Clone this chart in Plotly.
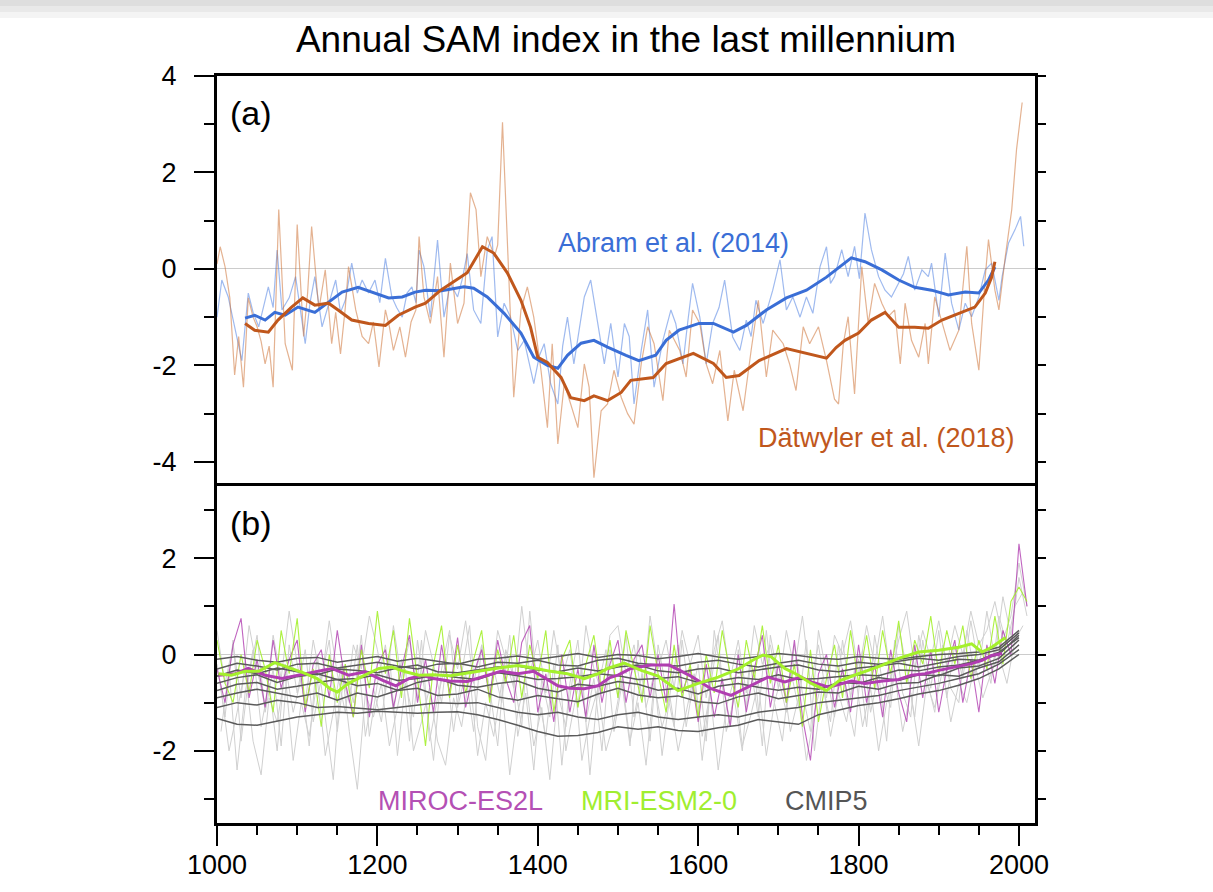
import plotly.graph_objects as go

# ---------------- Panel (a) data ----------------
ABRAM_ANNUAL = [(1000, -1.0), (1006, -0.23), (1014, -0.58), (1022, -1.2), (1031, -1.9), (1039, -0.5), (1045, -0.9),
    (1052, -1.2), (1058, -0.8), (1064, -0.37), (1070, -0.8), (1075, 0.39), (1081, -0.85), (1090, -0.6), (1098, -0.16),
    (1104, -0.9), (1110, -1.55), (1116, -0.7), (1122, -0.16), (1131, -1.2), (1140, -0.7), (1148, -0.23), (1154, -0.9),
    (1160, -0.65), (1168, 0.12), (1175, -0.5), (1181, -0.23), (1189, -0.5), (1197, -0.23), (1203, -0.7), (1210, 0.22),
    (1218, -0.58), (1224, -0.8), (1231, -1.0), (1237, -0.5), (1243, -0.37), (1248, -0.7), (1252, 0.39), (1258, 0.05),
    (1266, -1.0), (1275, 0.6), (1283, -1.0), (1291, -0.3), (1300, -0.58), (1306, -0.2), (1312, 0.32), (1320, -0.85),
    (1329, -1.13), (1337, 0.39), (1343, 0.67), (1350, -1.41), (1358, -0.71), (1366, -1.0), (1375, -1.69), (1383, -1.48),
    (1389, -1.9), (1395, -2.38), (1402, -1.8), (1408, -1.55), (1416, -2.38), (1425, -2.8), (1431, -1.6), (1437, -1.0),
    (1445, -1.97), (1452, -1.2), (1458, -0.58), (1466, -0.23), (1475, -1.13), (1483, -1.97), (1491, -1.13), (1500, -2.24),
    (1508, -1.13), (1514, -1.4), (1520, -2.8), (1529, -1.69), (1537, -0.85), (1545, -2.45), (1556, -1.48), (1566, -0.85),
    (1572, -1.13), (1581, -1.97), (1587, -1.1), (1593, -0.3), (1602, -1.0), (1610, -1.97), (1618, -1.13), (1626, -0.8),
    (1633, -0.23), (1643, -1.41), (1652, -1.69), (1660, -1.06), (1666, -1.4), (1672, -0.65), (1681, -1.13), (1687, -0.8),
    (1693, -0.44), (1702, 0.19), (1710, -0.85), (1718, -0.58), (1727, -1.0), (1735, -0.58), (1743, -0.92), (1752, 0.05),
    (1760, 0.46), (1765, -0.3), (1770, -0.16), (1779, 0.4), (1787, -0.16), (1795, 0.47), (1801, -0.2), (1808, 1.16),
    (1816, 0.4), (1825, -0.16), (1833, -0.44), (1841, -0.58), (1850, -0.3), (1856, -0.1), (1862, 0.26), (1870, -0.44),
    (1879, -0.02), (1887, -0.16), (1891, 0.12), (1900, -0.99), (1908, 0.33), (1916, -0.71), (1925, -1.27), (1933, -0.71),
    (1941, -0.99), (1950, -0.58), (1958, -0.02), (1966, 0.12), (1975, -0.65), (1979, -0.16), (1987, 0.54), (1995, 0.81),
    (2002, 1.09), (2006, 0.47)]

ABRAM_SMOOTH = [(1035, -1.02), (1047, -0.96), (1060, -1.06), (1072, -0.9), (1085, -0.96), (1101, -0.79), (1122, -0.9),
    (1139, -0.69), (1156, -0.48), (1176, -0.38), (1197, -0.5), (1214, -0.6), (1231, -0.58), (1247, -0.48), (1260, -0.44),
    (1280, -0.45), (1308, -0.37), (1320, -0.4), (1337, -0.58), (1358, -0.92), (1379, -1.33), (1395, -1.83), (1412, -2.0),
    (1425, -2.06), (1437, -1.79), (1454, -1.54), (1470, -1.48), (1487, -1.62), (1510, -1.79), (1526, -1.9), (1547, -1.79),
    (1560, -1.48), (1576, -1.27), (1601, -1.13), (1619, -1.13), (1644, -1.31), (1660, -1.17), (1685, -0.85), (1710, -0.6),
    (1735, -0.44), (1760, -0.17), (1772, -0.02), (1791, 0.23), (1808, 0.15), (1829, -0.02), (1850, -0.23), (1870, -0.38),
    (1891, -0.44), (1912, -0.54), (1933, -0.48), (1950, -0.5), (1962, -0.23), (1970, 0.04)]

DATWYLER_ANNUAL = [(1000, 0.1), (1004, 0.46), (1010, 0.05), (1016, -0.6), (1022, -2.2), (1027, -1.4), (1033, -2.45),
    (1039, -0.6), (1045, -1.0), (1050, -1.2), (1055, -1.5), (1060, -1.97), (1065, -1.6), (1070, -2.45), (1077, 1.23),
    (1085, -1.55), (1094, -2.1), (1100, 0.92), (1108, -1.4), (1113, -0.5), (1118, 0.88), (1127, -0.85), (1135, -0.02),
    (1143, -1.55), (1148, -0.9), (1154, -1.76), (1160, -0.8), (1164, 0.05), (1173, -0.85), (1181, -1.4), (1189, -1.55),
    (1195, -1.1), (1202, -2.03), (1210, -0.85), (1215, -1.2), (1220, -1.69), (1228, -1.2), (1235, -1.83), (1242, -1.1),
    (1248, -0.85), (1252, 0.67), (1258, -0.58), (1266, -1.13), (1275, -0.16), (1283, -1.83), (1291, 0.12), (1300, -1.13),
    (1308, -0.71), (1316, 1.58), (1323, 1.23), (1329, -0.16), (1337, 0.67), (1346, 0.26), (1350, 0.5), (1356, 3.04),
    (1364, -0.02), (1370, -2.66), (1379, -0.85), (1387, -0.37), (1395, -1.0), (1404, -2.1), (1412, -3.29), (1418, -1.55),
    (1425, -3.63), (1433, -2.38), (1441, -2.8), (1450, -3.29), (1458, -1.97), (1464, -2.45), (1470, -4.33), (1479, -2.94),
    (1487, -2.8), (1495, -2.1), (1504, -2.66), (1512, -3.0), (1520, -3.22), (1529, -1.97), (1537, -1.2), (1545, -1.55),
    (1556, -2.73), (1564, -1.27), (1577, -1.69), (1585, -2.24), (1593, -0.85), (1602, -1.13), (1610, -1.97), (1618, -2.38),
    (1627, -1.69), (1637, -3.15), (1645, -2.1), (1656, -2.94), (1666, -1.69), (1675, -0.65), (1685, -2.24), (1693, -1.27),
    (1706, -1.55), (1714, -1.97), (1722, -2.52), (1731, -1.2), (1739, -1.55), (1750, -1.2), (1760, -1.9), (1770, -2.7),
    (1775, -2.8), (1781, -1.55), (1787, -0.99), (1795, -2.59), (1804, 0.05), (1812, -1.13), (1820, -0.3), (1829, -0.71),
    (1837, -0.99), (1845, -0.85), (1852, -1.97), (1858, -0.71), (1866, -1.48), (1875, -1.83), (1883, -1.13), (1887, -1.97),
    (1895, -0.58), (1904, -1.13), (1914, -1.69), (1925, -1.27), (1935, 0.47), (1941, -1.13), (1950, -2.1), (1958, -0.16),
    (1962, 0.61), (1970, -0.44), (1975, -0.85), (1983, 0.26), (1991, 1.23), (1997, 2.48), (2004, 3.45)]

DATWYLER_SMOOTH = [(1035, -1.13), (1047, -1.27), (1064, -1.31), (1076, -1.06), (1093, -0.79), (1107, -0.6), (1122, -0.75),
    (1139, -0.71), (1151, -0.85), (1168, -1.06), (1189, -1.13), (1210, -1.17), (1226, -0.96), (1247, -0.79), (1260, -0.71),
    (1279, -0.44), (1312, -0.08), (1331, 0.46), (1345, 0.33), (1362, -0.08), (1379, -0.65), (1391, -1.21), (1400, -1.83),
    (1412, -1.94), (1429, -2.25), (1441, -2.67), (1458, -2.73), (1470, -2.63), (1487, -2.73), (1504, -2.56), (1516, -2.31),
    (1544, -2.25), (1560, -1.96), (1594, -1.75), (1619, -1.96), (1635, -2.25), (1651, -2.21), (1676, -1.9), (1710, -1.65),
    (1731, -1.73), (1760, -1.85), (1772, -1.63), (1783, -1.48), (1800, -1.33), (1816, -1.06), (1833, -0.9), (1850, -1.21),
    (1870, -1.21), (1887, -1.23), (1904, -1.06), (1925, -0.92), (1945, -0.79), (1958, -0.5), (1966, -0.17), (1970, 0.15)]

# ---------------- Panel (b) data ----------------
DECADES = [1000, 1010, 1020, 1030, 1040, 1050, 1060, 1070, 1080, 1090,
           1100, 1110, 1120, 1130, 1140, 1150, 1160, 1170, 1180, 1190,
           1200, 1210, 1220, 1230, 1240, 1250, 1260, 1270, 1280, 1290,
           1300, 1310, 1320, 1330, 1340, 1350, 1360, 1370, 1380, 1390,
           1400, 1410, 1420, 1430, 1440, 1450, 1460, 1470, 1480, 1490,
           1500, 1510, 1520, 1530, 1540, 1550, 1560, 1570, 1580, 1590,
           1600, 1610, 1620, 1630, 1640, 1650, 1660, 1670, 1680, 1690,
           1700, 1710, 1720, 1730, 1740, 1750, 1760, 1770, 1780, 1790,
           1800, 1810, 1820, 1830, 1840, 1850, 1860, 1870, 1880, 1890,
           1900, 1910, 1920, 1930, 1940, 1950, 1960, 1970, 1980, 1990,
           2000, 2010]
MID_DECADES = [1005, 1015, 1025, 1035, 1045, 1055, 1065, 1075, 1085, 1095,
               1105, 1115, 1125, 1135, 1145, 1155, 1165, 1175, 1185, 1195,
               1205, 1215, 1225, 1235, 1245, 1255, 1265, 1275, 1285, 1295,
               1305, 1315, 1325, 1335, 1345, 1355, 1365, 1375, 1385, 1395,
               1405, 1415, 1425, 1435, 1445, 1455, 1465, 1475, 1485, 1495,
               1505, 1515, 1525, 1535, 1545, 1555, 1565, 1575, 1585, 1595,
               1605, 1615, 1625, 1635, 1645, 1655, 1665, 1675, 1685, 1695,
               1705, 1715, 1725, 1735, 1745, 1755, 1765, 1775, 1785, 1795,
               1805, 1815, 1825, 1835, 1845, 1855, 1865, 1875, 1885, 1895,
               1905, 1915, 1925, 1935, 1945, 1955, 1965, 1975, 1985, 1995,
               2005]

MIROC_ANNUAL = [-0.3, -1.0, 0.2, 0.75, -0.9, -0.1, -1.1, 0.3, -0.7, -0.1,
                0.3, -1.2, -0.2, 0.1, -0.9, 0.5, -0.6, -1.3, 0.2, -1.3,
                -0.2, 0.1, -1.1, -0.3, 0.4, -1.0, -0.1, -1.2, 0.2, -0.8,
                0.35, -1.1, -0.4, 0.1, -0.9, 0.3, -0.5, -1.0, 0.25, 0.6,
                -1.2, -0.4, -1.4, 0.0, -1.2, -0.3, -1.3, 0.2, -1.0, -0.2,
                0.3, -1.0, -0.1, 0.2, -0.9, 0.0, -1.0, 1.05, -0.8, -0.3,
                -1.4, -0.2, -1.3, -0.5, -1.5, 0.0, -1.2, -0.3, 0.4, -1.1,
                -0.2, -1.0, 0.3, -1.3, -2.2, -0.4, 0.0, -1.1, -0.3, -1.2,
                0.2, -1.0, -0.2, -1.3, 0.1, -0.8, -1.4, 0.2, -0.9, 0.1,
                -1.2, -0.3, 0.3, -1.0, -0.1, -1.2, 0.2, -0.6, 0.5, 0.0,
                2.3, 1.0]

MRI_ANNUAL = [0.3, -0.6, -1.0, 0.0, -0.8, 0.3, -0.3, -1.2, 0.5, -0.4,
              0.75, -1.1, -0.3, -1.5, 0.0, -1.0, -0.2, -1.3, 0.1, -0.7,
              0.9, -0.4, 0.5, -0.9, 0.75, -0.5, -1.9, -0.2, 0.6, -0.9,
              0.2, -0.8, -0.1, 0.5, -1.0, 0.1, -0.6, 0.4, -0.9, 0.2,
              -0.5, 0.5, -1.2, -0.1, 0.3, -1.1, -0.2, 0.4, -0.8, 0.3,
              -0.9, 0.5, -0.3, -1.0, 0.6, -0.4, -1.2, 0.2, -0.9, -0.2,
              -1.3, 0.0, -0.8, 0.5, -0.4, -1.1, 0.3, -0.5, 0.6, -0.6,
              0.2, -1.0, -0.2, -1.5, 0.1, -1.4, -0.5, 0.2, -0.9, 0.5,
              -0.6, 0.4, -0.7, 0.5, -0.4, 0.7, -0.6, 0.3, -0.2, 0.8,
              -0.4, 0.5, -0.2, 0.6, -0.5, 0.3, -0.3, 0.8, -0.2, 1.1,
              1.4, 1.1]

MIROC_SMOOTH = [(1002, -0.43), (1023, -0.4), (1039, -0.29), (1060, -0.43), (1081, -0.5), (1102, -0.43), (1122, -0.36),
    (1143, -0.29), (1164, -0.43), (1185, -0.36), (1206, -0.53), (1223, -0.65), (1239, -0.5), (1256, -0.43), (1270, -0.5),
    (1290, -0.55), (1312, -0.56), (1333, -0.45), (1354, -0.35), (1375, -0.4), (1395, -0.35), (1410, -0.5), (1425, -0.65),
    (1440, -0.7), (1458, -0.71), (1475, -0.65), (1490, -0.48), (1500, -0.43), (1516, -0.29), (1541, -0.22), (1564, -0.22),
    (1591, -0.45), (1616, -0.71), (1641, -0.85), (1662, -0.68), (1687, -0.47), (1708, -0.57), (1728, -0.47), (1741, -0.57),
    (1763, -0.68), (1791, -0.55), (1808, -0.6), (1830, -0.55), (1850, -0.52), (1866, -0.43), (1883, -0.4), (1900, -0.33),
    (1916, -0.28), (1933, -0.22), (1941, -0.19), (1954, -0.12), (1966, -0.02), (1979, 0.02)]

MRI_SMOOTH = [(1002, -0.4), (1018, -0.43), (1035, -0.35), (1052, -0.35), (1072, -0.17), (1093, -0.29), (1108, -0.38),
    (1125, -0.5), (1141, -0.71), (1150, -0.78), (1164, -0.6), (1183, -0.44), (1202, -0.29), (1218, -0.26), (1235, -0.36),
    (1252, -0.43), (1270, -0.42), (1291, -0.44), (1312, -0.38), (1333, -0.33), (1355, -0.27), (1375, -0.23), (1395, -0.28),
    (1416, -0.35), (1437, -0.4), (1458, -0.5), (1475, -0.4), (1487, -0.29), (1508, -0.18), (1529, -0.33), (1550, -0.45),
    (1575, -0.75), (1600, -0.6), (1625, -0.47), (1650, -0.3), (1668, -0.12), (1681, -0.01), (1691, -0.05), (1708, -0.29),
    (1725, -0.43), (1741, -0.6), (1760, -0.75), (1775, -0.55), (1800, -0.4), (1825, -0.25), (1850, -0.08), (1875, 0.05),
    (1900, 0.09), (1925, 0.15), (1941, 0.22), (1954, 0.05), (1966, 0.15), (1983, 0.35)]

# CMIP5 annual members (light grey)
CMIP5_ANNUAL_A = [-0.2, -1.3, 0.3, -1.8, -0.4, 0.4, -1.2, -0.3, -1.9, 0.2,
                  -0.8, 0.1, -1.4, -0.5, 0.3, -1.6, -0.2, -1.0, 0.4, -1.7,
                  -0.6, 0.2, -1.2, -0.1, -1.8, 0.3, -0.9, -2.2, -0.3, 0.5,
                  -1.1, -0.4, -1.6, 0.2, -0.7, -1.9, 0.1, -0.5, -1.5, 0.9,
                  -0.8, -1.7, -0.2, -2.3, -0.6, 0.3, -1.4, -0.5, -2.0, 0.1,
                  -0.9, 0.4, -1.3, -0.4, -1.8, 0.2, -0.7, -1.5, 0.3, -1.0,
                  -0.2, -1.8, 0.5, -0.6, -1.4, 0.1, -1.1, -0.3, -1.9, 0.4,
                  -0.5, -1.2, 0.2, -0.8, -1.6, 0.5, -0.4, -1.3, 0.3, -0.9,
                  -0.1, -1.5, 0.4, -0.6, -1.1, 0.6, -0.3, -1.3, 0.3, -0.7,
                  0.5, -0.9, 0.2, -0.5, 0.7, -0.3, 0.9, -0.1, 1.2, 0.4,
                  1.6, 0.8]
CMIP5_ANNUAL_B = [-1.6, -0.3, -2.4, -0.8, 0.1, -1.5, -0.6, -2.0, -0.2, -1.2,
                  -0.5, -1.9, 0.0, -1.3, -2.6, -0.4, -1.0, 0.2, -1.7, -0.7,
                  -1.4, 0.0, -2.1, -0.6, -1.3, 0.3, -1.8, -0.9, -0.2, -1.6,
                  -0.4, 0.6, -1.5, -2.2, -0.3, -1.0, 0.4, -1.7, -0.8, -2.4,
                  -0.5, -1.3, 0.2, -2.0, -1.1, -0.3, -2.5, -0.7, 0.1, -1.6,
                  -0.6, -1.9, 0.3, -1.1, -0.4, -2.1, -0.8, 0.2, -1.5, -0.5,
                  -2.2, -0.7, 0.4, -1.6, -0.9, -2.0, -0.2, -1.3, 0.5, -1.0,
                  -1.8, -0.3, -1.1, 0.3, -2.0, -0.6, -1.4, 0.2, -0.9, -1.7,
                  0.1, -1.2, -0.4, -1.8, 0.3, -0.8, -1.3, 0.4, -0.5, -1.2,
                  0.2, -0.7, -1.0, 0.5, -0.4, 0.1, -0.6, 0.8, 0.2, 1.0,
                  1.3]
CMIP5_ANNUAL_C = [0.5, -0.6, 0.2, -0.9, 0.6, -0.3, -1.1, 0.4, -0.5, 0.9,
                  -0.2, -1.0, 0.3, -0.6, 0.7, -0.4, -1.2, 0.2, -0.3, 0.8,
                  0.1, -0.8, 0.6, -0.5, 0.3, -0.9, 0.5, -0.2, -1.0, 0.4,
                  -0.3, 0.7, -0.6, 0.2, -0.9, 0.5, -0.1, -0.7, 1.0, -0.4,
                  0.3, -0.8, 0.5, -0.5, 0.1, -1.1, 0.6, -0.3, -0.8, 0.4,
                  0.6, -0.4, 0.2, -0.9, 0.8, -0.3, 0.3, -0.7, 0.5, -0.2,
                  0.4, -0.9, 0.1, 0.7, -0.5, 0.3, -0.8, 0.6, -0.2, 0.2,
                  -0.7, 0.5, -0.3, 0.8, -0.6, 0.2, -0.9, 0.4, 0.0, 0.7,
                  -0.4, 0.6, -0.2, 0.8, -0.5, 0.3, 0.9, -0.3, 0.5, -0.1,
                  0.7, -0.2, 0.6, 0.0, 0.9, 0.2, 0.5, 1.1, 0.3, 0.8,
                  1.9, 1.0]
CMIP5_ANNUAL_D = [-0.7, -2.0, -1.2, -0.3, -1.8, -2.5, -0.9, -1.4, -0.4, -2.2,
                  -1.0, -1.7, -0.5, -2.1, -1.2, -0.2, -1.6, -2.8, -0.8, -1.3,
                  -0.6, -1.9, -1.1, -0.3, -2.0, -1.4, -0.7, -1.8, -2.3, -0.9,
                  -1.5, -0.4, -2.1, -1.0, -1.7, -0.6, -2.5, -1.2, -0.5, -1.9,
                  -1.1, -2.6, -0.8, -1.5, -0.3, -2.2, -1.3, -0.7, -2.0, -1.4,
                  -0.5, -1.8, -1.0, -2.3, -0.6, -1.5, -0.9, -2.0, -1.2, -0.4,
                  -1.7, -0.8, -2.4, -1.1, -0.5, -1.9, -1.3, -0.6, -2.1, -1.0,
                  -0.4, -1.6, -0.9, -2.2, -1.2, -0.5, -1.7, -0.8, -1.4, -0.3,
                  -1.5, -0.7, -2.0, -1.0, -0.4, -1.6, -0.8, -1.9, -0.6, -1.1,
                  -0.3, -1.4, -0.6, -1.0, -0.2, -0.9, -0.4, 0.0, -0.6, 0.3,
                  0.6]

# CMIP5 smoothed members (dark grey), every 25 years
QUARTER_CENT = [1000, 1025, 1050, 1075, 1100, 1125, 1150, 1175, 1200, 1225, 1250, 1275, 1300, 1325,
                1350, 1375, 1400, 1425, 1450, 1475, 1500, 1525, 1550, 1575, 1600, 1625, 1650, 1675,
                1700, 1725, 1750, 1775, 1800, 1825, 1850, 1875, 1900, 1925, 1950, 1975, 2000]
CMIP5_SMOOTH_1 = [-1.33, -1.45, -1.47, -1.38, -1.3, -1.25, -1.2, -1.22, -1.18, -1.2, -1.22, -1.2, -1.19, -1.25,
                  -1.35, -1.47, -1.6, -1.7, -1.68, -1.62, -1.5, -1.55, -1.5, -1.58, -1.6, -1.52, -1.47, -1.35,
                  -1.4, -1.45, -1.25, -1.15, -1.06, -1.0, -0.92, -0.82, -0.75, -0.64, -0.5, -0.3, 0.0]
CMIP5_SMOOTH_2 = [-1.1, -1.0, -1.05, -0.95, -1.0, -1.1, -1.08, -1.12, -1.15, -1.1, -1.05, -1.0, -1.02, -1.0,
                  -1.1, -1.2, -1.25, -1.2, -1.3, -1.35, -1.25, -1.2, -1.3, -1.35, -1.3, -1.25, -1.3, -1.2,
                  -1.15, -1.1, -1.0, -0.95, -0.9, -0.85, -0.75, -0.68, -0.6, -0.5, -0.4, -0.2, 0.1]
CMIP5_SMOOTH_3 = [-0.9, -0.8, -0.72, -0.8, -0.88, -0.8, -0.95, -0.8, -0.88, -0.75, -0.7, -0.85, -0.82, -0.72,
                  -0.88, -0.95, -0.85, -0.92, -0.98, -0.82, -0.7, -0.84, -0.9, -0.86, -0.98, -1.02, -0.88, -0.8,
                  -0.92, -0.85, -0.78, -0.8, -0.66, -0.72, -0.6, -0.58, -0.42, -0.45, -0.28, -0.15, 0.2]
CMIP5_SMOOTH_4 = [-0.75, -0.62, -0.58, -0.72, -0.66, -0.58, -0.52, -0.65, -0.6, -0.74, -0.58, -0.5, -0.64, -0.68,
                  -0.6, -0.55, -0.7, -0.78, -0.62, -0.66, -0.56, -0.62, -0.74, -0.7, -0.82, -0.66, -0.6, -0.68,
                  -0.74, -0.68, -0.72, -0.58, -0.6, -0.48, -0.54, -0.42, -0.44, -0.28, -0.24, -0.08, 0.3]
CMIP5_SMOOTH_5 = [-0.6, -0.48, -0.42, -0.58, -0.46, -0.4, -0.52, -0.5, -0.42, -0.54, -0.5, -0.42, -0.48, -0.52,
                  -0.38, -0.44, -0.52, -0.5, -0.46, -0.4, -0.44, -0.52, -0.5, -0.46, -0.58, -0.55, -0.48, -0.52,
                  -0.42, -0.52, -0.5, -0.46, -0.42, -0.44, -0.32, -0.34, -0.26, -0.22, -0.12, 0.0, 0.4]
CMIP5_SMOOTH_6 = [-0.45, -0.32, -0.4, -0.28, -0.36, -0.42, -0.3, -0.33, -0.38, -0.28, -0.22, -0.36, -0.38, -0.32,
                  -0.26, -0.24, -0.32, -0.36, -0.28, -0.34, -0.26, -0.22, -0.34, -0.38, -0.3, -0.28, -0.38, -0.32,
                  -0.26, -0.22, -0.32, -0.36, -0.28, -0.24, -0.18, -0.26, -0.18, -0.1, -0.12, 0.05, 0.35]
CMIP5_SMOOTH_7 = [-0.3, -0.18, -0.24, -0.32, -0.2, -0.18, -0.28, -0.22, -0.16, -0.24, -0.3, -0.2, -0.18, -0.26,
                  -0.16, -0.18, -0.12, -0.22, -0.24, -0.12, -0.08, -0.18, -0.22, -0.24, -0.16, -0.12, -0.2, -0.26,
                  -0.18, -0.12, -0.2, -0.24, -0.16, -0.2, -0.14, -0.08, -0.12, -0.04, 0.0, 0.1, 0.45]
CMIP5_SMOOTH_8 = [-0.1, -0.04, -0.12, -0.16, -0.08, -0.06, -0.16, -0.1, -0.04, -0.14, -0.08, -0.14, -0.2, -0.1,
                  -0.08, -0.03, -0.1, -0.04, 0.02, -0.06, 0.0, -0.02, -0.09, -0.04, 0.02, -0.05, -0.1, -0.04,
                  0.02, -0.02, -0.08, -0.1, -0.04, -0.08, -0.1, -0.04, 0.0, 0.02, 0.05, 0.15, 0.5]

X_TICKS = [1000, 1200, 1400, 1600, 1800, 2000]
X_TICK_TEXT = ["1000", "1200", "1400", "1600", "1800", "2000"]
YA_TICKS = [-4, -2, 0, 2, 4]
YA_TICK_TEXT = ["-4", "-2", "0", "2", "4"]
YB_TICKS = [-2, 0, 2]
YB_TICK_TEXT = ["-2", "0", "2"]
MINOR_Y = [-3, -1, 1, 3]
SIDE_TICKS_A = [-4, -3, -2, -1, 0, 1, 2, 3, 4]
SIDE_TICKS_B = [-3, -2, -1, 0, 1, 2, 3]

# ---------------- styling ----------------
FONT = "Liberation Sans, Arial, Helvetica, sans-serif"
BLUE = "#3a6ed6"
BLUE_THIN = "rgba(80,130,225,0.55)"
ORANGE = "#c0571c"
ORANGE_THIN = "rgba(205,115,55,0.55)"
PURPLE = "#b03db0"
PURPLE_THIN = "rgba(176,61,176,0.8)"
GREEN = "#a4f02c"
GREEN_THIN = "rgba(164,240,44,0.9)"
GREY_DARK = "#5a5a5a"
GREY_LIGHT = "#d0d0d0"


def xs(pairs):
    return [p[0] for p in pairs]


def ys(pairs):
    return [p[1] for p in pairs]


fig = go.Figure()

# Panel (a): uses x2 / y2
fig.add_trace(go.Scatter(x=xs(ABRAM_ANNUAL), y=ys(ABRAM_ANNUAL), mode="lines",
                         line=dict(color=BLUE_THIN, width=1.2), xaxis="x2", yaxis="y2", showlegend=False))
fig.add_trace(go.Scatter(x=xs(DATWYLER_ANNUAL), y=ys(DATWYLER_ANNUAL), mode="lines",
                         line=dict(color=ORANGE_THIN, width=1.2), xaxis="x2", yaxis="y2", showlegend=False))
fig.add_trace(go.Scatter(x=xs(ABRAM_SMOOTH), y=ys(ABRAM_SMOOTH), mode="lines",
                         line=dict(color=BLUE, width=3), xaxis="x2", yaxis="y2", showlegend=False))
fig.add_trace(go.Scatter(x=xs(DATWYLER_SMOOTH), y=ys(DATWYLER_SMOOTH), mode="lines",
                         line=dict(color=ORANGE, width=3), xaxis="x2", yaxis="y2", showlegend=False))

# Panel (b): uses x / y
for vals, yrs in [(CMIP5_ANNUAL_A, DECADES), (CMIP5_ANNUAL_B, MID_DECADES),
                  (CMIP5_ANNUAL_C, DECADES), (CMIP5_ANNUAL_D, MID_DECADES)]:
    fig.add_trace(go.Scatter(x=yrs[:len(vals)], y=vals, mode="lines",
                             line=dict(color=GREY_LIGHT, width=1), showlegend=False))
fig.add_trace(go.Scatter(x=DECADES, y=MIROC_ANNUAL, mode="lines",
                         line=dict(color=PURPLE_THIN, width=1.1), showlegend=False))
fig.add_trace(go.Scatter(x=DECADES, y=MRI_ANNUAL, mode="lines",
                         line=dict(color=GREEN_THIN, width=1.1), showlegend=False))
for vals in [CMIP5_SMOOTH_1, CMIP5_SMOOTH_2, CMIP5_SMOOTH_3, CMIP5_SMOOTH_4,
             CMIP5_SMOOTH_5, CMIP5_SMOOTH_6, CMIP5_SMOOTH_7, CMIP5_SMOOTH_8]:
    fig.add_trace(go.Scatter(x=QUARTER_CENT, y=vals, mode="lines",
                             line=dict(color=GREY_DARK, width=1.5), showlegend=False))
fig.add_trace(go.Scatter(x=xs(MIROC_SMOOTH), y=ys(MIROC_SMOOTH), mode="lines",
                         line=dict(color=PURPLE, width=3), showlegend=False))
fig.add_trace(go.Scatter(x=xs(MRI_SMOOTH), y=ys(MRI_SMOOTH), mode="lines",
                         line=dict(color=GREEN, width=3), showlegend=False))

# invisible traces to activate right-hand tick axes
fig.add_trace(go.Scatter(x=[None], y=[None], yaxis="y3", showlegend=False, hoverinfo="skip"))
fig.add_trace(go.Scatter(x=[None], y=[None], xaxis="x2", yaxis="y4", showlegend=False, hoverinfo="skip"))

SPLIT = 337 / 747

tickfont = dict(family=FONT, size=27, color="black")
minor_y = dict(tickvals=MINOR_Y, ticks="outside", ticklen=10, tickwidth=2, tickcolor="black")
fig.update_layout(
    template="none",
    width=1213, height=892,
    margin=dict(l=217, r=178, t=76, b=69, pad=0),
    paper_bgcolor="white", plot_bgcolor="white",
    font=dict(family=FONT, color="black"),
    title=dict(text="Annual SAM index in the last millennium", x=0.5, xref="paper", xanchor="center",
               y=1 - 39 / 892, yanchor="middle", font=dict(family=FONT, size=37, color="black")),
    xaxis=dict(domain=[0, 1], range=[1000, 2020], anchor="y", automargin=False,
               tickmode="array", tickvals=X_TICKS, ticktext=X_TICK_TEXT, ticks="outside", ticklen=20, tickwidth=2,
               tickcolor="black", tickfont=tickfont, ticklabelstandoff=-4,
               minor=dict(dtick=50, tick0=1000, ticks="outside", ticklen=9, tickwidth=2, tickcolor="black"),
               showline=True, linecolor="black", linewidth=3, mirror=True, showgrid=False, zeroline=False),
    yaxis=dict(domain=[0, SPLIT], range=[-3.5, 3.5], anchor="x", automargin=False,
               tickmode="array", tickvals=YB_TICKS, ticktext=YB_TICK_TEXT, ticks="outside", ticklen=20, tickwidth=2,
               tickcolor="black", tickfont=tickfont, ticklabelstandoff=12, minor=minor_y,
               showline=True, linecolor="black", linewidth=3, mirror=True, showgrid=False,
               zeroline=True, zerolinecolor="#cccccc", zerolinewidth=1),
    xaxis2=dict(domain=[0, 1], range=[1000, 2020], anchor="y2", matches="x", automargin=False,
                side="top", showticklabels=False, ticks="", showline=True, linecolor="black", linewidth=3,
                mirror=False, showgrid=False, zeroline=False),
    yaxis2=dict(domain=[SPLIT, 1], range=[-4.5, 4], anchor="x2", automargin=False,
                tickmode="array", tickvals=YA_TICKS, ticktext=YA_TICK_TEXT, ticks="outside", ticklen=20, tickwidth=2,
                tickcolor="black", tickfont=tickfont, ticklabelstandoff=12, minor=minor_y,
                showline=True, linecolor="black", linewidth=3, mirror=True, showgrid=False,
                zeroline=True, zerolinecolor="#cccccc", zerolinewidth=1),
    yaxis3=dict(overlaying="y", side="right", anchor="x", range=[-3.5, 3.5], automargin=False,
                tickmode="array", tickvals=SIDE_TICKS_B, ticks="outside", ticklen=10, tickwidth=2,
                tickcolor="black", showticklabels=False, showline=False, showgrid=False, zeroline=False),
    yaxis4=dict(overlaying="y2", side="right", anchor="x2", range=[-4.5, 4], automargin=False,
                tickmode="array", tickvals=SIDE_TICKS_A, ticks="outside", ticklen=10, tickwidth=2,
                tickcolor="black", showticklabels=False, showline=False, showgrid=False, zeroline=False),
    shapes=[
        dict(type="rect", xref="paper", yref="paper", x0=-0.27, x1=1.22, y0=1.0937, y1=1.11,
             fillcolor="#dedede", line=dict(width=0), layer="below"),
        dict(type="rect", xref="paper", yref="paper", x0=-0.27, x1=1.22, y0=1.0857, y1=1.0937,
             fillcolor="#e9e9e9", line=dict(width=0), layer="below"),
        dict(type="rect", xref="paper", yref="paper", x0=-0.27, x1=1.22, y0=1.0777, y1=1.0857,
             fillcolor="#f4f4f4", line=dict(width=0), layer="below"),
    ],
)

ann_font = dict(family=FONT, size=27)
annotations = [
    dict(text="(a)", x=1043, y=3.23, xref="x2", yref="y2", font=dict(family=FONT, size=34, color="black")),
    dict(text="(b)", x=1043, y=2.73, xref="x", yref="y", font=dict(family=FONT, size=34, color="black")),
    dict(text="Abram et al. (2014)", x=1569, y=0.54, xref="x2", yref="y2", font=dict(ann_font, color=BLUE)),
    dict(text="Dätwyler et al. (2018)", x=1835, y=-3.5, xref="x2", yref="y2", font=dict(ann_font, color=ORANGE)),
    dict(text="MIROC-ES2L", x=1304, y=-3.04, xref="x", yref="y", font=dict(ann_font, color="#b450b4")),
    dict(text="MRI-ESM2-0", x=1551, y=-3.04, xref="x", yref="y", font=dict(ann_font, color="#a0ee30")),
    dict(text="CMIP5", x=1760, y=-3.04, xref="x", yref="y", font=dict(ann_font, color="#555555")),
]
for a in annotations:
    a.update(showarrow=False, xanchor="center", yanchor="middle")
fig.update_layout(annotations=annotations)

fig.write_html("out.html", config={"displayModeBar": False},
               post_script="document.body.style.margin='0';")
